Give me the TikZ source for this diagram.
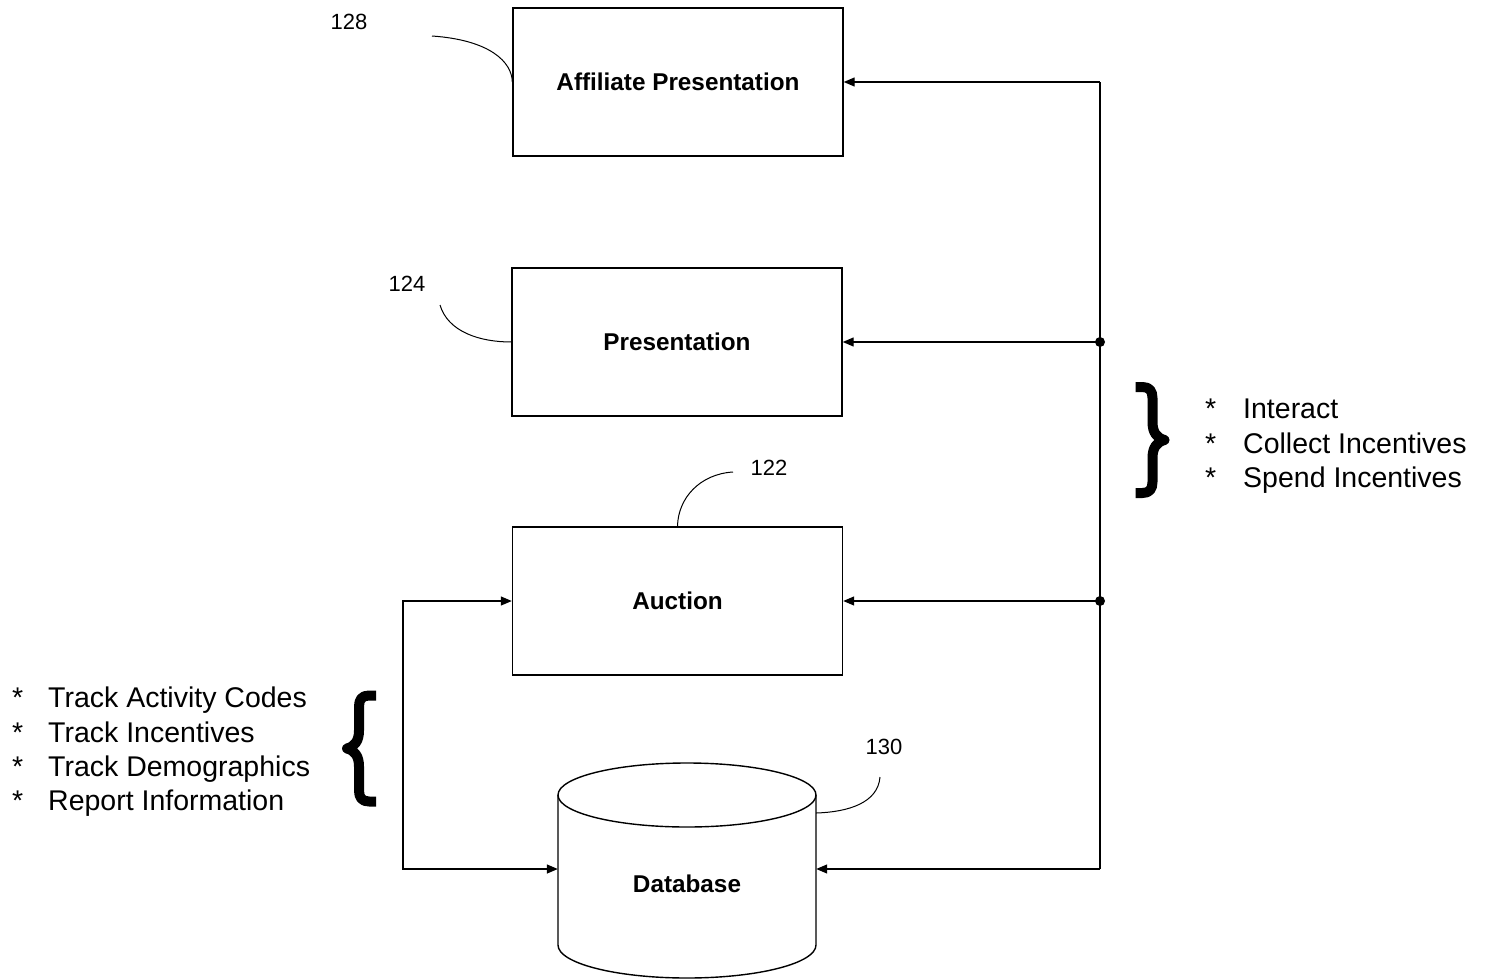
\documentclass[tikz,border=0pt]{standalone}
\usepackage{fontspec}
\setmainfont{Liberation Sans}
\usetikzlibrary{arrows.meta}
\begin{document}
\begin{tikzpicture}[x=1pt,y=-1pt,
  blockbox/.style={draw,line width=1.4pt,minimum width=330pt,minimum height=148pt,inner sep=0pt,
    font=\fontsize{24.3}{28}\selectfont\bfseries},
  dbtext/.style={font=\fontsize{24.3}{28}\selectfont\bfseries,inner sep=0pt},
  refnum/.style={font=\fontsize{22}{26}\selectfont,inner sep=0pt},
  leader/.style={line width=1pt},
  wire/.style={line width=1.3pt},
  tipped/.style={wire,-{Triangle[length=11pt,width=9pt]}},
  listtext/.style={font=\fontsize{28.5}{34}\selectfont,inner sep=0pt,anchor=base west},
  curly/.pic={
    \draw[line width=10pt,line join=round]
      (-17,-53) -- (-10,-53) .. controls (-3,-53) and (0,-49) .. (0,-42) -- (0,-18)
      .. controls (0,-8) and (4,-2) .. (12,0)
      .. controls (4,2) and (0,8) .. (0,18) -- (0,42)
      .. controls (0,49) and (-3,53) .. (-10,53) -- (-17,53);
  }]
\useasboundingbox (0,0) rectangle (1489,980);

% functional blocks
\node[blockbox] (aff)  at (678,82)    {Affiliate Presentation};
\node[blockbox] (pres) at (677,342)   {Presentation};
\node[blockbox] (auc)  at (677.5,601) {Auction};

% database cylinder
\node[minimum width=258pt,minimum height=150pt,inner sep=0pt] (db) at (687,869) {};
\draw[line width=1.4pt] (687,795) ellipse [x radius=129pt,y radius=32pt];
\draw[line width=1.4pt] (558,795) -- (558,945) arc [start angle=180,end angle=360,x radius=129pt,y radius=33pt] -- (816,795);
\node[dbtext] (dbl) at (687,884) {Database};

% reference numerals and leaders
\node[refnum] (n128) at (349,22)  {128};
\node[refnum] (n124) at (407,284) {124};
\node[refnum] (n122) at (769,468) {122};
\node[refnum] (n130) at (884,747) {130};
\coordinate (l128) at (432,36);
\coordinate (l124) at (440,305);
\coordinate (l122) at (733,472);
\coordinate (l130) at (880,777);
\draw[leader] (l128) .. controls (490,40) and (512,62) .. (aff.west |- 0,82);
\draw[leader] (l124) .. controls (448,332) and (480,342) .. (pres.west);
\draw[leader] (l122) .. controls (700,474) and (678,498) .. (auc.north);
\draw[leader] (l130) .. controls (878,803) and (848,812) .. (db.east |- 0,813);

% right-hand bus
\coordinate (rt) at (1100,82);
\coordinate (j1) at (1100,342);
\coordinate (j2) at (1100,601);
\coordinate (rb) at (1100,869);
\draw[wire] (rt) -- (rb);
\draw[tipped] (rt) -- (aff.east);
\draw[tipped] (j1) -- (pres.east);
\draw[tipped] (j2) -- (auc.east);
\draw[tipped] (rb) -- (db.east);
\fill (j1) circle[radius=5pt];
\fill (j2) circle[radius=5pt];

% left-hand link between auction and database
\coordinate (lb) at (403,869);
\draw[wire,{Triangle[length=11pt,width=9pt]}-{Triangle[length=11pt,width=9pt]}] (auc.west) -| (lb) -- (db.west);

% user actions
\pic at (1152.5,440) {curly};
\node[listtext] (ra1) at (1205,418) {*};
\node[listtext] (ra2) at (1205,453) {*};
\node[listtext] (ra3) at (1205,487) {*};
\node[listtext] (rt1) at (1243,418) {Interact};
\node[listtext] (rt2) at (1243,453) {Collect Incentives};
\node[listtext] (rt3) at (1243,487) {Spend Incentives};

% database functions
\pic[xscale=-1] at (359,748.5) {curly};
\node[listtext] (la1) at (12,707) {*};
\node[listtext] (la2) at (12,742) {*};
\node[listtext] (la3) at (12,776) {*};
\node[listtext] (la4) at (12,810) {*};
\node[listtext] (lt1) at (48,707) {Track Activity Codes};
\node[listtext] (lt2) at (48,742) {Track Incentives};
\node[listtext] (lt3) at (48,776) {Track Demographics};
\node[listtext] (lt4) at (48,810) {Report Information};
\end{tikzpicture}
\end{document}
